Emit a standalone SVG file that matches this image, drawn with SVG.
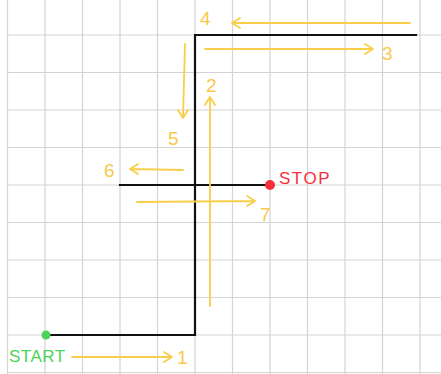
<svg xmlns="http://www.w3.org/2000/svg" width="441" height="374" viewBox="0 0 441 374">
<style>
.grid{stroke:#d4d4d4;stroke-width:1.2;fill:none}
.wall{stroke:#111;stroke-width:2.2;fill:none;stroke-linecap:square}
.arr{stroke:#f8cf4a;stroke-width:1.8;fill:none;stroke-linecap:round;stroke-linejoin:round}
.num{font-family:"Liberation Sans",Arial,sans-serif;font-size:19px;fill:#f8c94a}
.lbl{font-family:"Liberation Sans",Arial,sans-serif;font-size:17px}
</style>
<rect width="441" height="374" fill="#fff"/>
<g id="grid" class="grid">
<path d="M7.5 0V374M45 0V374M82.5 0V374M120 0V374M157.5 0V374M195 0V374M232.5 0V374M270 0V374M307.5 0V374M345 0V374M382.5 0V374M420 0V374"/>
<path d="M7.5 35H441M7.5 72.5H441M7.5 110H441M7.5 147.5H441M7.5 185H441M7.5 222.5H441M7.5 260H441M7.5 297.5H441M7.5 335H441M7.5 372.5H441"/>
</g>
<g id="walls" class="wall">
<path d="M46 335H195V35H416"/>
<path d="M120 185H270"/>
</g>
<g id="connectors" class="arr">
<path d="M72 357H172M164 352L172 357L164 362"/>
<path d="M210 306V97M205 105L210 97L215 105"/>
<path d="M205 49H373M365 44L373 49L365 54"/>
<path d="M410 23H232M240 18L232 23L240 28"/>
<path d="M185 44L183 118M178 110L183 118L188 110"/>
<path d="M183 170L130 169M138 164L130 169L138 174"/>
<path d="M137 202L255 201M247 196L255 201L247 206"/>
</g>
<g id="start"><circle cx="46" cy="335" r="4.5" fill="#4cd35a"/><text class="lbl" x="9" y="362" fill="#4cd35a" letter-spacing="0.5">START</text></g>
<g id="stop"><circle cx="270" cy="185" r="5" fill="#f5303c"/><text class="lbl" x="279" y="184" fill="#f5303c" font-size="15" letter-spacing="1.5">STOP</text></g>
<g id="labels">
<text class="num" x="177" y="364" font-size="20">1</text>
<text class="num" x="206" y="92" font-size="17">2</text>
<text class="num" x="382" y="60">3</text>
<text class="num" x="200" y="25" font-size="16">4</text>
<text class="num" x="168" y="145" font-size="22">5</text>
<text class="num" x="104" y="177" font-size="17">6</text>
<text class="num" x="260" y="221" font-size="22">7</text>
</g>
</svg>
